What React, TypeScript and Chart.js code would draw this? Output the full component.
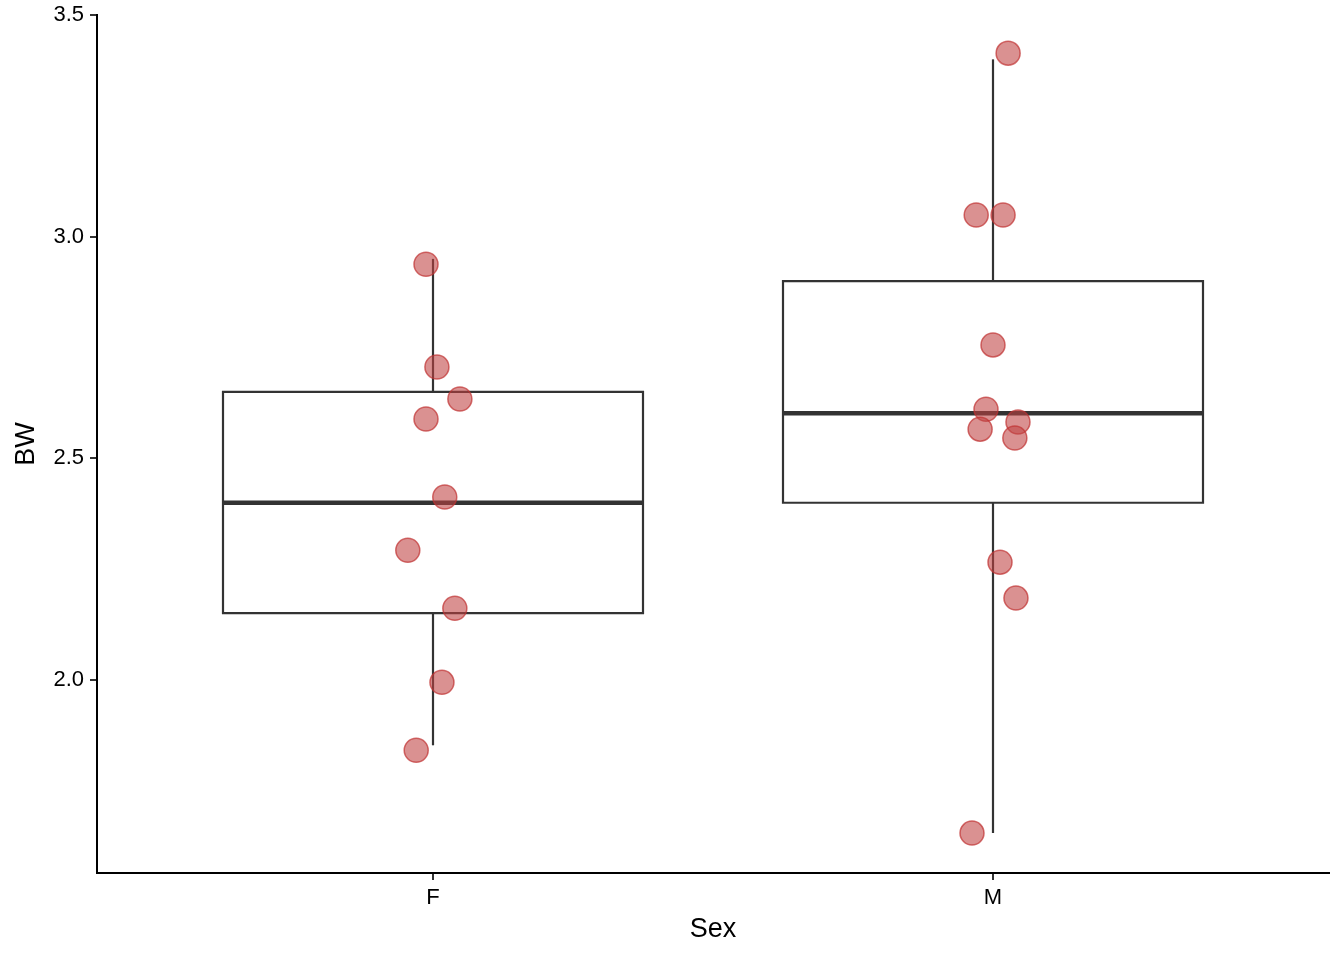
import { useEffect, useRef } from 'react';
import { Chart, registerables } from 'chart.js';

Chart.register(...registerables);

// ---- data ----
const categories = ['F', 'M'];
const whiskerLow = [1.853, 1.655];
const boxQ1 = [2.151, 2.4];
const boxMedian = [2.4, 2.602];
const boxQ3 = [2.65, 2.9];
const whiskerHigh = [2.95, 3.4];

// jittered points: x position (category index 1/2 plus jitter), BW value
const xF = [0.9875, 1.007, 1.048, 0.9875, 1.021, 0.955, 1.039, 1.016, 0.97];
const bwF = [2.938, 2.706, 2.634, 2.589, 2.413, 2.293, 2.162, 1.995, 1.842];
const xM = [2.027, 1.97, 2.018, 2.0, 1.9875, 2.0446, 1.977, 2.039, 2.0125, 2.041, 1.9625];
const bwM = [3.414, 3.049, 3.049, 2.756, 2.611, 2.582, 2.566, 2.546, 2.266, 2.185, 1.655];

const yTicks = [2.0, 2.5, 3.0, 3.5];
const xTicks = [1, 2];

const BOX_HALF = 0.375;
const FONT = '"Liberation Sans", Arial, Helvetica, sans-serif';
const LINE = '#333333';

export default function App() {
  const ref = useRef<HTMLCanvasElement | null>(null);

  useEffect(() => {
    document.body.style.margin = '0';
    const canvas = ref.current;
    if (!canvas) return;

    const points = [
      ...xF.map((x, i) => ({ x, y: bwF[i] })),
      ...xM.map((x, i) => ({ x, y: bwM[i] })),
    ];

    const lineDs = (data: { x: number; y: number }[], width: number, cap: CanvasLineCap = 'butt') => ({
      type: 'scatter' as const,
      data,
      showLine: true,
      borderColor: LINE,
      borderWidth: width,
      borderCapStyle: cap,
      borderJoinStyle: 'miter' as const,
      pointRadius: 0,
      pointHoverRadius: 0,
      fill: false,
      tension: 0,
    });

    const structure: any[] = [];
    categories.forEach((_, i) => {
      const c = xTicks[i];
      const l = c - BOX_HALF;
      const r = c + BOX_HALF;
      structure.push(
        lineDs(
          [
            { x: l, y: boxQ1[i] },
            { x: r, y: boxQ1[i] },
            { x: r, y: boxQ3[i] },
            { x: l, y: boxQ3[i] },
            { x: l, y: boxQ1[i] },
          ],
          2.2,
          'square'
        )
      );
      structure.push(lineDs([{ x: l, y: boxMedian[i] }, { x: r, y: boxMedian[i] }], 4.5));
      structure.push(lineDs([{ x: c, y: whiskerLow[i] }, { x: c, y: boxQ1[i] }], 2.2));
      structure.push(lineDs([{ x: c, y: boxQ3[i] }, { x: c, y: whiskerHigh[i] }], 2.2));
    });

    const chart = new Chart(canvas, {
      type: 'scatter',
      data: {
        datasets: [
          {
            data: points,
            backgroundColor: 'rgba(192, 66, 66, 0.58)',
            borderColor: 'rgba(192, 50, 50, 0.7)',
            borderWidth: 1.5,
            pointRadius: 12,
            pointHoverRadius: 12,
          },
          ...structure,
        ],
      },
      options: {
        animation: false,
        responsive: false,
        events: [],
        layout: { padding: { left: 0, top: 15, right: 15, bottom: 0 } },
        plugins: {
          legend: { display: false },
          tooltip: { enabled: false },
        },
        scales: {
          x: {
            type: 'linear',
            min: 0.4,
            max: 2.6,
            afterBuildTicks: (scale: any) => {
              scale.ticks = xTicks.map((v) => ({ value: v }));
            },
            afterFit: (scale: any) => {
              scale.height = 87;
              scale.paddingLeft = 0;
              scale.paddingRight = 0;
            },
            ticks: {
              callback: (v: any) => categories[Number(v) - 1] ?? '',
              font: { family: FONT, size: 22 },
              color: '#000',
              padding: 5,
              maxRotation: 0,
            },
            grid: {
              display: true,
              drawOnChartArea: false,
              drawTicks: true,
              tickLength: 7,
              color: '#333',
              lineWidth: 2,
            },
            border: { display: true, color: '#000', width: 2 },
            title: {
              display: true,
              text: 'Sex',
              font: { family: FONT, size: 27 },
              color: '#000',
              padding: { top: 0, bottom: 14 },
            },
          },
          y: {
            type: 'linear',
            min: 1.565,
            max: 3.5,
            afterBuildTicks: (scale: any) => {
              scale.ticks = yTicks.map((v) => ({ value: v }));
            },
            afterFit: (scale: any) => {
              scale.width = 97;
              scale.paddingTop = 0;
              scale.paddingBottom = 0;
            },
            ticks: {
              callback: (v: any) => Number(v).toFixed(1),
              font: { family: FONT, size: 22 },
              color: '#000',
              padding: 6,
            },
            grid: {
              display: true,
              drawOnChartArea: false,
              drawTicks: true,
              tickLength: 7,
              color: '#333',
              lineWidth: 2,
            },
            border: { display: true, color: '#000', width: 2 },
            title: {
              display: true,
              text: 'BW',
              font: { family: FONT, size: 27 },
              color: '#000',
              padding: { top: 10, bottom: 0 },
            },
          },
        },
      },
    } as any);

    return () => chart.destroy();
  }, []);

  return (
    <div style={{ width: 1344, height: 960 }}>
      <canvas ref={ref} width={1344} height={960} style={{ display: 'block' }} />
    </div>
  );
}
